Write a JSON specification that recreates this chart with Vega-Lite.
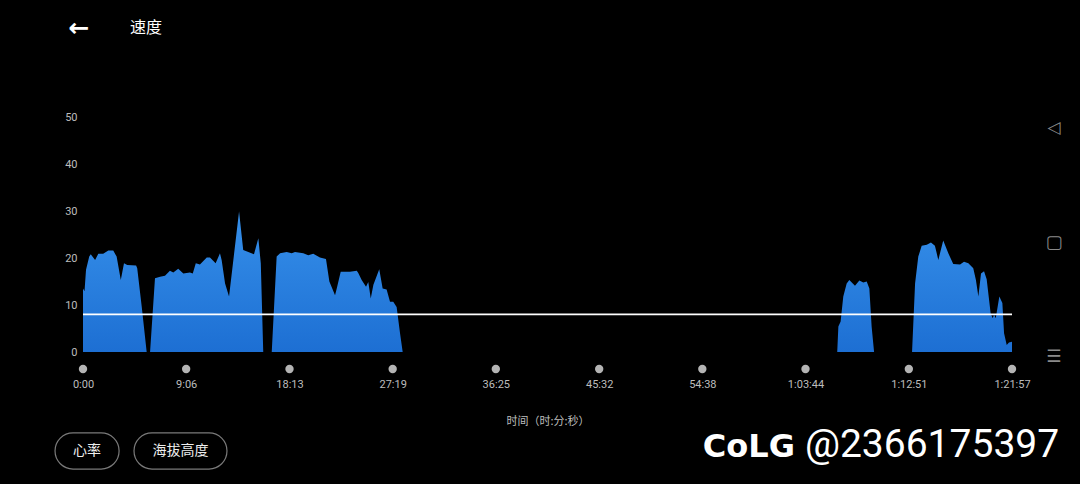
{
  "$schema": "https://vega.github.io/schema/vega-lite/v6.json",
  "background": "#000000",
  "autosize": {"type": "none"},
  "padding": {"left": 83, "top": 117, "right": 68, "bottom": 132},
  "width": 929,
  "height": 235,
  "config": {"view": {"stroke": null}},
  "datasets": {
    "speed": [
      {"t": 0, "v": 13.5}, {"t": 8, "v": 12.9}, {"t": 16, "v": 17.5}, {"t": 33, "v": 20.3}, {"t": 41, "v": 20.8}, {"t": 64, "v": 19.6}, {"t": 81, "v": 20.9}, {"t": 107, "v": 20.9}, {"t": 134, "v": 21.6}, {"t": 160, "v": 21.6}, {"t": 178, "v": 20.3}, {"t": 200, "v": 15.3}, {"t": 217, "v": 18.9}, {"t": 234, "v": 18.5}, {"t": 281, "v": 18.4}, {"t": 287, "v": 17.8}, {"t": 311, "v": 9.6}, {"t": 337, "v": 0},
      {"t": 355, "v": 0}, {"t": 381, "v": 15.7}, {"t": 408, "v": 16.0}, {"t": 434, "v": 16.2}, {"t": 460, "v": 17.3}, {"t": 478, "v": 16.9}, {"t": 504, "v": 17.7}, {"t": 531, "v": 16.7}, {"t": 566, "v": 16.9}, {"t": 581, "v": 16.7}, {"t": 597, "v": 18.9}, {"t": 619, "v": 18.6}, {"t": 655, "v": 20.1}, {"t": 672, "v": 20.1}, {"t": 702, "v": 18.9}, {"t": 725, "v": 21.0}, {"t": 734, "v": 19.5}, {"t": 752, "v": 14.6}, {"t": 773, "v": 11.8}, {"t": 826, "v": 29.9}, {"t": 848, "v": 21.7}, {"t": 875, "v": 21.3}, {"t": 905, "v": 20.8}, {"t": 928, "v": 24.2}, {"t": 941, "v": 18.9}, {"t": 954, "v": 0},
      {"t": 999, "v": 0}, {"t": 1025, "v": 20.3}, {"t": 1043, "v": 21.0}, {"t": 1078, "v": 21.3}, {"t": 1105, "v": 21.0}, {"t": 1122, "v": 21.3}, {"t": 1166, "v": 21.0}, {"t": 1192, "v": 20.6}, {"t": 1219, "v": 20.9}, {"t": 1254, "v": 20.1}, {"t": 1286, "v": 19.8}, {"t": 1304, "v": 15.0}, {"t": 1334, "v": 12.1}, {"t": 1343, "v": 13.5}, {"t": 1364, "v": 17.1}, {"t": 1413, "v": 17.1}, {"t": 1449, "v": 17.3}, {"t": 1457, "v": 16.8}, {"t": 1475, "v": 15.3}, {"t": 1498, "v": 13.9}, {"t": 1510, "v": 14.9}, {"t": 1523, "v": 11.4}, {"t": 1537, "v": 14.3}, {"t": 1568, "v": 17.6}, {"t": 1586, "v": 13.5}, {"t": 1607, "v": 13.3}, {"t": 1625, "v": 10.7}, {"t": 1642, "v": 10.7}, {"t": 1660, "v": 9.6}, {"t": 1678, "v": 4.0}, {"t": 1692, "v": 0},
      {"t": 3992, "v": 0}, {"t": 3998, "v": 5.4}, {"t": 4010, "v": 6.5}, {"t": 4024, "v": 11.8}, {"t": 4042, "v": 14.6}, {"t": 4056, "v": 15.3}, {"t": 4086, "v": 14.1}, {"t": 4109, "v": 15.2}, {"t": 4130, "v": 14.8}, {"t": 4148, "v": 15.0}, {"t": 4162, "v": 13.5}, {"t": 4174, "v": 5.4}, {"t": 4187, "v": 0},
      {"t": 4388, "v": 0}, {"t": 4404, "v": 14.6}, {"t": 4421, "v": 20.3}, {"t": 4439, "v": 22.6}, {"t": 4466, "v": 22.8}, {"t": 4488, "v": 23.3}, {"t": 4509, "v": 22.6}, {"t": 4527, "v": 19.6}, {"t": 4553, "v": 23.7}, {"t": 4580, "v": 21.0}, {"t": 4606, "v": 18.7}, {"t": 4642, "v": 18.6}, {"t": 4663, "v": 19.2}, {"t": 4686, "v": 18.9}, {"t": 4712, "v": 17.8}, {"t": 4726, "v": 15.3}, {"t": 4739, "v": 11.8}, {"t": 4753, "v": 16.7}, {"t": 4769, "v": 17.2}, {"t": 4783, "v": 15.5}, {"t": 4804, "v": 8.2}, {"t": 4815, "v": 7.2}, {"t": 4822, "v": 8.0}, {"t": 4831, "v": 7.2}, {"t": 4850, "v": 11.8}, {"t": 4866, "v": 10.4}, {"t": 4875, "v": 4.0}, {"t": 4889, "v": 1.5}, {"t": 4901, "v": 2.0}, {"t": 4917, "v": 2.2}
    ],
    "ticks": [{"t": 0}, {"t": 546}, {"t": 1093}, {"t": 1639}, {"t": 2185}, {"t": 2732}, {"t": 3278}, {"t": 3824}, {"t": 4371}, {"t": 4917}]
  },
  "layer": [
    {
      "data": {"name": "speed"},
      "mark": {"type": "area", "interpolate": "linear", "color": {"gradient": "linear", "x1": 0, "y1": 0, "x2": 0, "y2": 1, "stops": [{"offset": 0, "color": "#3690ea"}, {"offset": 1, "color": "#1d6fd3"}]}},
      "encoding": {
        "x": {"field": "t", "type": "quantitative", "scale": {"domain": [0, 4917], "nice": false, "zero": false},
          "axis": {"values": [0, 546, 1093, 1639, 2185, 2732, 3278, 3824, 4371, 4917], "grid": false, "domain": false, "ticks": false, "labelFlush": false, "labelOverlap": false, "labelPadding": 26, "labelFontSize": 11, "labelColor": "#bdbdbd", "labelFont": "Roboto",
            "labelExpr": "(datum.value >= 3600 ? floor(datum.value/3600) + ':' + (floor((datum.value%3600)/60) < 10 ? '0' : '') + floor((datum.value%3600)/60) : '' + floor(datum.value/60)) + ':' + ((datum.value%60) < 10 ? '0' : '') + (datum.value%60)",
            "title": "时间（时:分:秒）", "titleFont": "Noto Sans CJK SC", "titleFontSize": 11, "titleFontWeight": "normal", "titleColor": "#bdbdbd", "titlePadding": 26}},
        "y": {"field": "v", "type": "quantitative", "scale": {"domain": [0, 50], "nice": false},
          "axis": {"values": [0, 10, 20, 30, 40, 50], "grid": false, "domain": false, "ticks": false, "labelPadding": 6, "labelFontSize": 11, "labelColor": "#bdbdbd", "labelFont": "Roboto", "title": null}}
      }
    },
    {
      "data": {"values": [{}]},
      "mark": {"type": "rule", "color": "#ffffff", "strokeWidth": 1.6},
      "encoding": {"y": {"datum": 8}, "x": {"datum": 0}, "x2": {"datum": 4917}}
    },
    {
      "data": {"name": "ticks"},
      "mark": {"type": "point", "filled": true, "color": "#b4b4b4", "opacity": 1, "size": 70, "yOffset": 17},
      "encoding": {"x": {"field": "t", "type": "quantitative"}, "y": {"datum": 0}}
    },
    {
      "data": {"values": [{}]},
      "mark": {"type": "text", "text": "←", "font": "DejaVu Sans", "fontWeight": "bold", "fontSize": 25, "color": "#ffffff", "align": "center", "baseline": "middle"},
      "encoding": {"x": {"datum": -21}, "y": {"datum": 68.9}}
    },
    {
      "data": {"values": [{}]},
      "mark": {"type": "text", "text": "速度", "font": "Noto Sans CJK SC", "fontSize": 16, "color": "#ffffff", "align": "left", "baseline": "middle"},
      "encoding": {"x": {"datum": 249}, "y": {"datum": 69.0}}
    },
    {
      "data": {"values": [{}]},
      "mark": {"type": "rect", "fill": null, "fillOpacity": 0, "stroke": "#7a7a7a", "strokeWidth": 1.2, "cornerRadius": 18},
      "encoding": {"x": {"datum": -148}, "x2": {"datum": 191}, "y": {"datum": -17.2}, "y2": {"datum": -24.9}}
    },
    {
      "data": {"values": [{}]},
      "mark": {"type": "rect", "fill": null, "fillOpacity": 0, "stroke": "#7a7a7a", "strokeWidth": 1.2, "cornerRadius": 18},
      "encoding": {"x": {"datum": 270}, "x2": {"datum": 762}, "y": {"datum": -17.2}, "y2": {"datum": -24.9}}
    },
    {
      "data": {"values": [{}]},
      "mark": {"type": "text", "text": "心率", "font": "Noto Sans CJK SC", "fontSize": 14, "color": "#eeeeee", "align": "center", "baseline": "middle"},
      "encoding": {"x": {"datum": 21}, "y": {"datum": -21.1}}
    },
    {
      "data": {"values": [{}]},
      "mark": {"type": "text", "text": "海拔高度", "font": "Noto Sans CJK SC", "fontSize": 14, "color": "#eeeeee", "align": "center", "baseline": "middle"},
      "encoding": {"x": {"datum": 516}, "y": {"datum": -21.1}}
    },
    {
      "data": {"values": [{}]},
      "mark": {"type": "text", "text": "CoLG", "font": "DejaVu Sans", "fontWeight": "bold", "fontSize": 32, "color": "#ffffff", "align": "right", "baseline": "alphabetic"},
      "encoding": {"x": {"datum": 3768}, "y": {"datum": -22.3}}
    },
    {
      "data": {"values": [{}]},
      "mark": {"type": "text", "text": "@2366175397", "font": "Roboto", "fontSize": 39, "color": "#ffffff", "align": "left", "baseline": "alphabetic"},
      "encoding": {"x": {"datum": 3821}, "y": {"datum": -22.3}}
    },
    {
      "data": {"values": [{}]},
      "mark": {"type": "text", "text": "◁", "font": "DejaVu Sans", "fontSize": 17, "color": "#8a8a8a", "align": "center", "baseline": "middle"},
      "encoding": {"x": {"datum": 5139}, "y": {"datum": 47.7}}
    },
    {
      "data": {"values": [{}]},
      "mark": {"type": "text", "text": "▢", "font": "DejaVu Sans", "fontSize": 18, "color": "#8a8a8a", "align": "center", "baseline": "middle"},
      "encoding": {"x": {"datum": 5139}, "y": {"datum": 23.2}}
    },
    {
      "data": {"values": [{}]},
      "mark": {"type": "text", "text": "☰", "font": "DejaVu Sans", "fontSize": 17, "color": "#8a8a8a", "align": "center", "baseline": "middle"},
      "encoding": {"x": {"datum": 5139}, "y": {"datum": -1.1}}
    }
  ]
}
